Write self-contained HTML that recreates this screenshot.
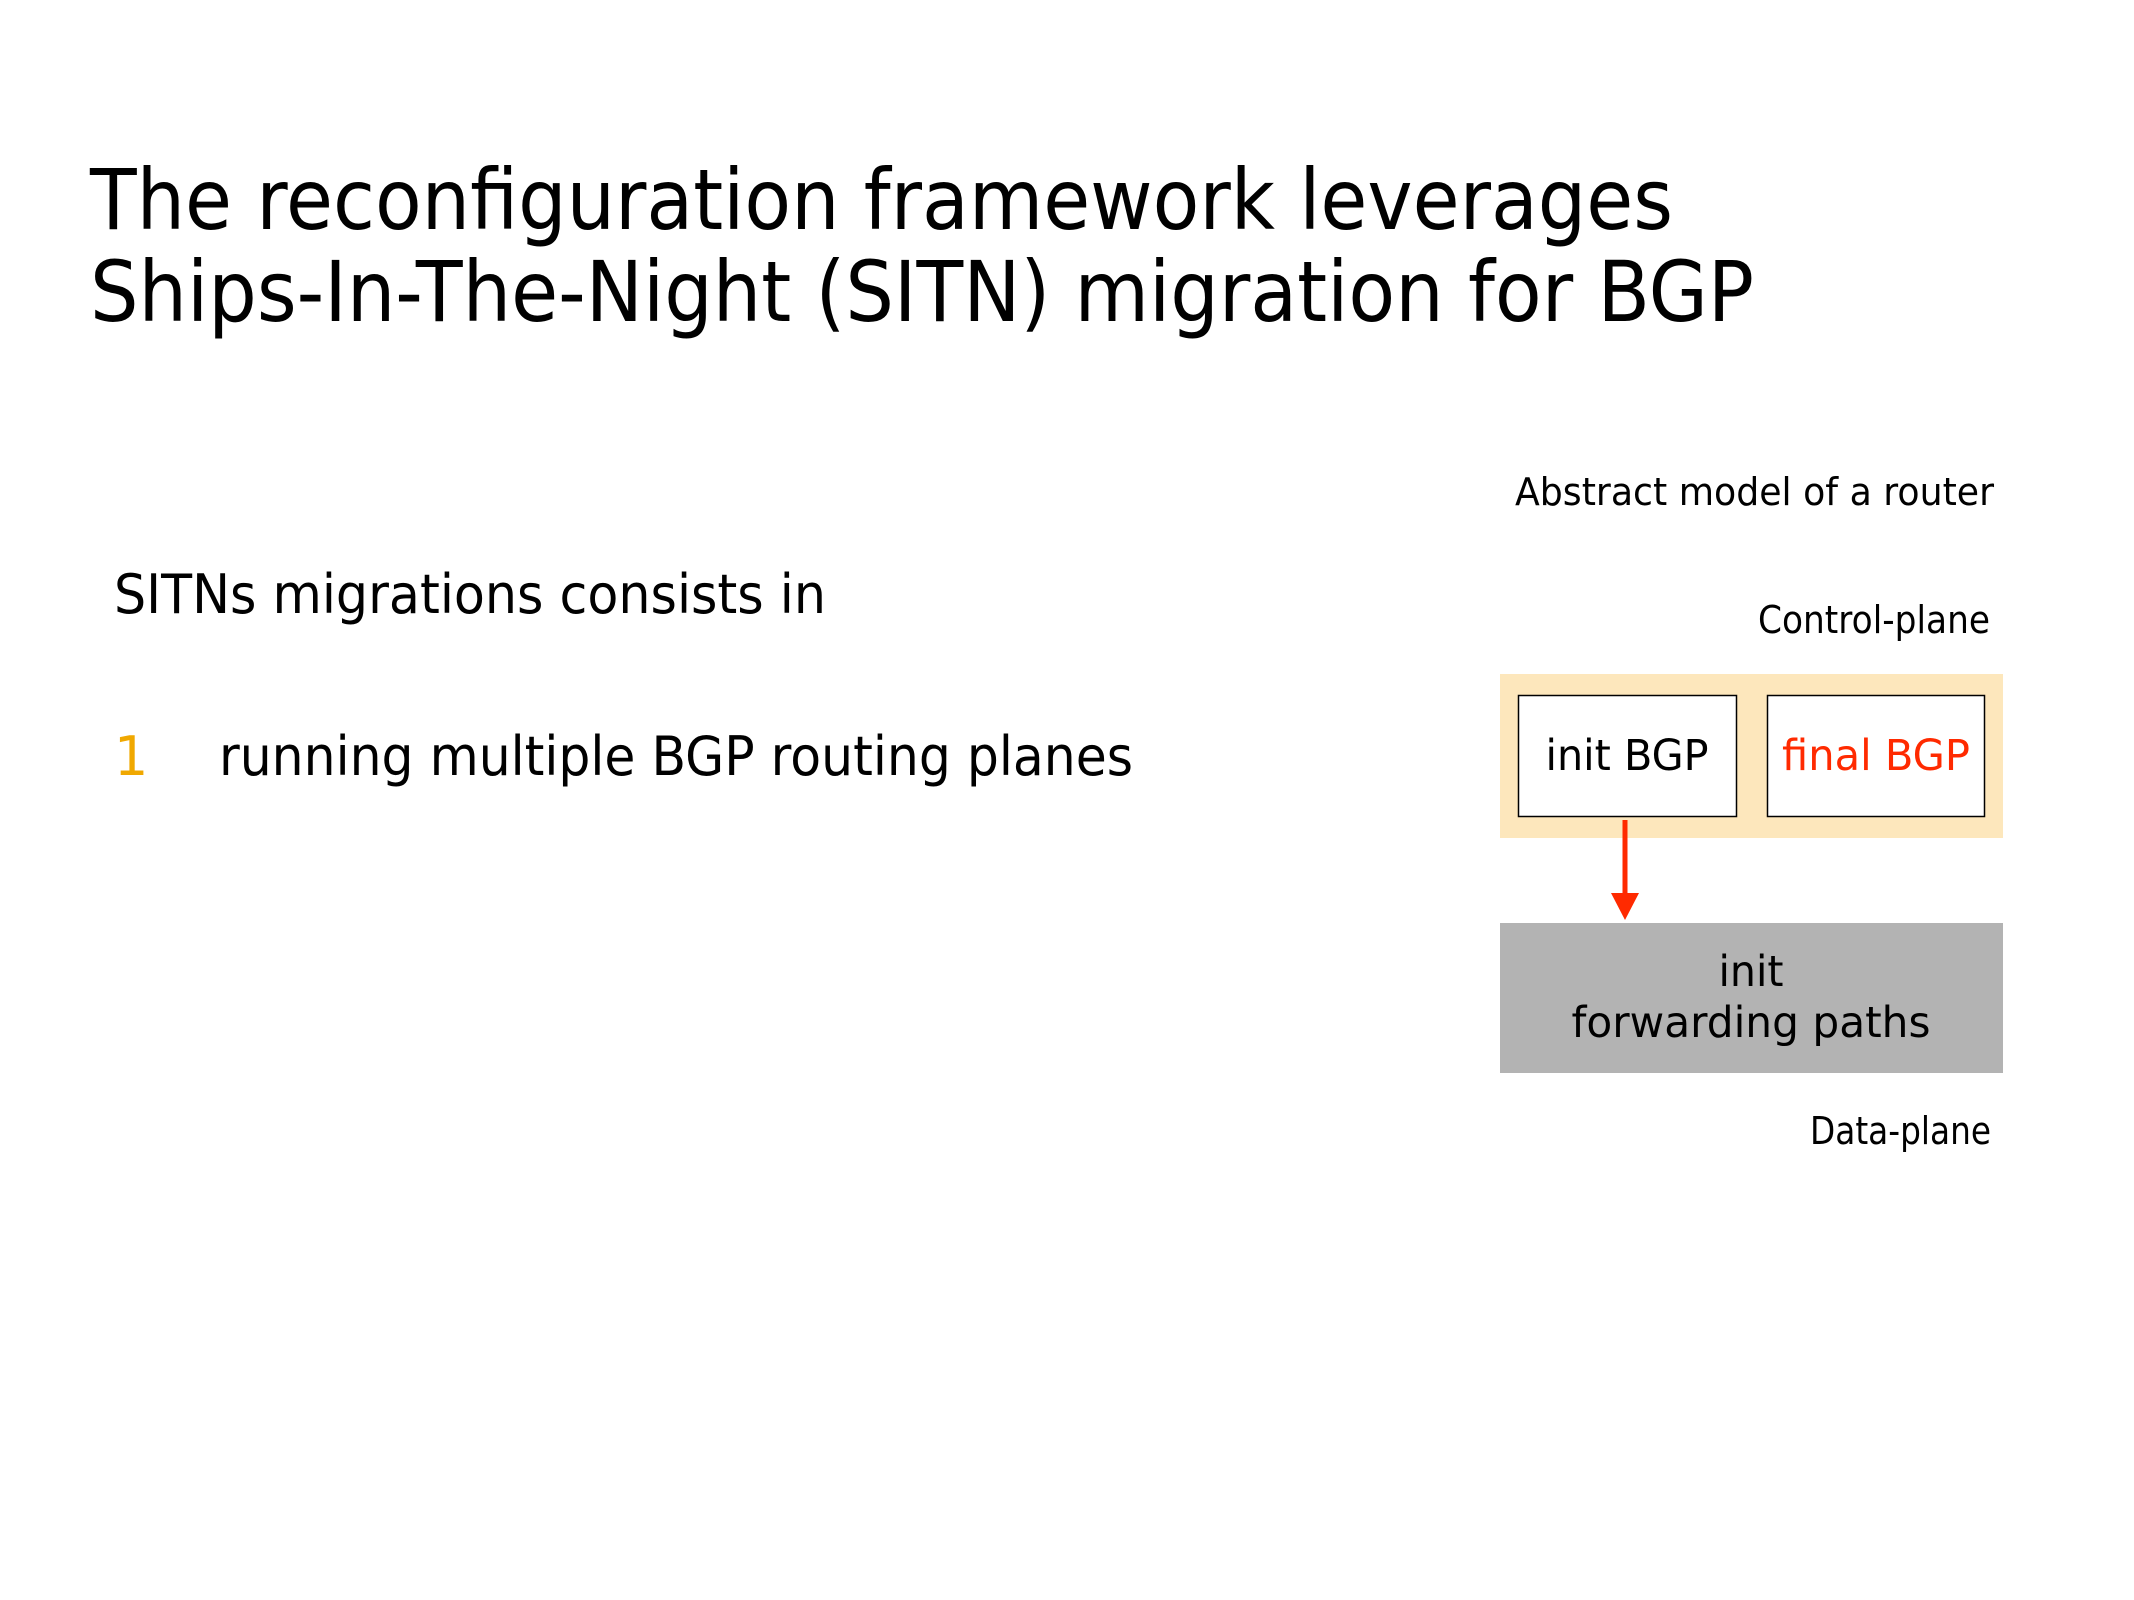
<!DOCTYPE html>
<html><head><meta charset="utf-8"><style>html,body{margin:0;padding:0;background:#fff}svg{display:block}</style></head>
<body>
<svg width="2134" height="1600" viewBox="0 0 2134 1600" xmlns="http://www.w3.org/2000/svg" font-family="'DejaVu Sans','Liberation Sans',sans-serif">
<rect width="2134" height="1600" fill="#fff"/>
<text x="90" y="229" font-size="84" textLength="1583" lengthAdjust="spacingAndGlyphs">The reconfiguration framework leverages</text>
<text x="90" y="321" font-size="84" textLength="1664" lengthAdjust="spacingAndGlyphs">Ships-In-The-Night (SITN) migration for BGP</text>
<text x="114" y="613" font-size="54" textLength="712" lengthAdjust="spacingAndGlyphs">SITNs migrations consists in</text>
<text x="114" y="775" font-size="54" fill="#f0a800">1</text>
<text x="219" y="775" font-size="54" textLength="914" lengthAdjust="spacingAndGlyphs">running multiple BGP routing planes</text>
<text x="1515" y="505" font-size="38" textLength="479" lengthAdjust="spacingAndGlyphs">Abstract model of a router</text>
<text x="1758" y="633" font-size="38" textLength="232" lengthAdjust="spacingAndGlyphs">Control-plane</text>
<rect x="1500" y="674" width="503" height="164" fill="#fde7bc"/>
<rect x="1518.5" y="695.5" width="218" height="121" fill="#fff" stroke="#000" stroke-width="1.5"/>
<rect x="1767.5" y="695.5" width="217" height="121" fill="#fff" stroke="#000" stroke-width="1.5"/>
<text x="1627" y="770" font-size="43" text-anchor="middle" textLength="163" lengthAdjust="spacingAndGlyphs">init BGP</text>
<text x="1876" y="770" font-size="43" text-anchor="middle" fill="#ff2a00" textLength="188" lengthAdjust="spacingAndGlyphs">final BGP</text>
<rect x="1500" y="923" width="503" height="150" fill="#b3b3b3"/>
<line x1="1625" y1="820" x2="1625" y2="900" stroke="#ff2a00" stroke-width="5"/>
<polygon points="1611,893 1639,893 1625,920" fill="#ff2a00"/>
<text x="1751" y="986" font-size="43" text-anchor="middle" textLength="65" lengthAdjust="spacingAndGlyphs">init</text>
<text x="1751" y="1037" font-size="43" text-anchor="middle" textLength="359" lengthAdjust="spacingAndGlyphs">forwarding paths</text>
<text x="1810" y="1144" font-size="38" textLength="181" lengthAdjust="spacingAndGlyphs">Data-plane</text>
</svg>
</body></html>
